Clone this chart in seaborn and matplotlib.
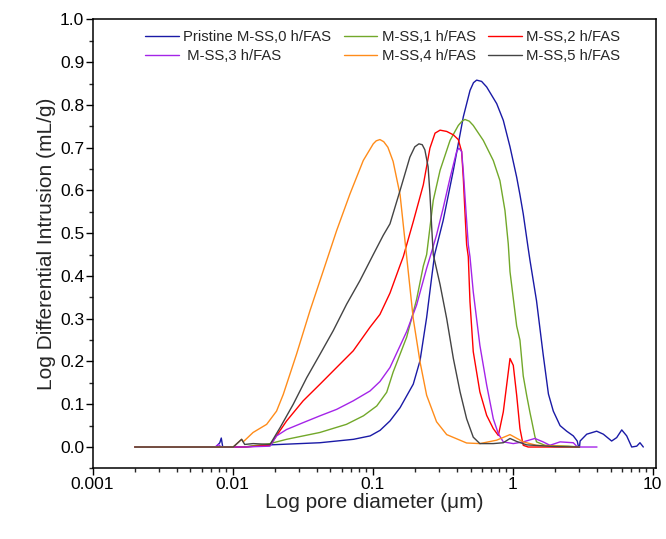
import numpy as np
import pandas as pd
import matplotlib
matplotlib.use("Agg")
import matplotlib.pyplot as plt
import seaborn as sns
from matplotlib.ticker import FixedLocator, MultipleLocator, LogLocator, NullFormatter, FixedFormatter

# ---------------- data ----------------
series_names = ["Pristine M-SS,0 h/FAS", "M-SS,1 h/FAS", "M-SS,2 h/FAS",
                " M-SS,3 h/FAS", "M-SS,4 h/FAS", "M-SS,5 h/FAS"]
series_colors = ["#1a1aa6", "#72a82a", "#ff0000", "#a424e8", "#ff8c1a", "#444444"]

x_0h = [0.002, 0.0076, 0.0081, 0.0083, 0.0085, 0.012, 0.0185, 0.042, 0.073, 0.096, 0.113,
        0.133, 0.157, 0.195, 0.218, 0.243, 0.264, 0.277, 0.319, 0.377, 0.444, 0.496, 0.525,
        0.553, 0.60, 0.652, 0.769, 0.857, 0.957, 1.068, 1.127, 1.19, 1.29, 1.33, 1.48, 1.65,
        1.80, 1.95, 2.18, 2.43, 2.71, 2.89, 2.94, 3.0, 3.03, 3.38, 3.98, 4.44, 5.09, 5.53,
        6.01, 6.52, 7.08, 7.69, 8.11, 8.57]
y_0h = [0.0, 0.0, 0.01, 0.021, 0.0, 0.0, 0.005, 0.01, 0.018, 0.026, 0.039,
        0.061, 0.092, 0.147, 0.202, 0.303, 0.397, 0.45, 0.53, 0.647, 0.772, 0.834, 0.852,
        0.858, 0.855, 0.842, 0.803, 0.764, 0.702, 0.631, 0.59, 0.545, 0.465, 0.436, 0.342,
        0.217, 0.124, 0.084, 0.05, 0.037, 0.026, 0.014, 0.003, 0.0, 0.014, 0.03, 0.037, 0.03,
        0.014, 0.022, 0.04, 0.026, 0.0, 0.002, 0.01, 0.0]

x_1h = [0.002, 0.012, 0.0185, 0.0243, 0.042, 0.065, 0.086, 0.107, 0.126, 0.140, 0.175, 0.206,
        0.230, 0.243, 0.271, 0.303, 0.357, 0.409, 0.435, 0.456, 0.49, 0.523, 0.617, 0.727,
        0.811, 0.881, 0.93, 0.957, 1.068, 1.127, 1.19, 1.26, 1.33, 1.37, 1.44, 1.48, 1.7,
        2.5, 3.0]
y_1h = [0.0, 0.0, 0.008, 0.018, 0.034, 0.053, 0.073, 0.096, 0.128, 0.175, 0.257, 0.345,
        0.423, 0.45, 0.577, 0.647, 0.717, 0.752, 0.762, 0.766, 0.762, 0.752, 0.717, 0.67,
        0.623, 0.553, 0.475, 0.41, 0.283, 0.25, 0.166, 0.12, 0.08, 0.06, 0.025, 0.012, 0.004,
        0.002, 0.0]

x_2h = [0.002, 0.012, 0.0185, 0.0243, 0.0319, 0.0421, 0.0553, 0.0727, 0.0957, 0.1127, 0.133,
        0.157, 0.1655, 0.195, 0.230, 0.2565, 0.279, 0.303, 0.338, 0.377, 0.409, 0.432, 0.444,
        0.456, 0.469, 0.482, 0.4955, 0.523, 0.583, 0.652, 0.727, 0.79, 0.857, 0.906, 0.957,
        1.01, 1.068, 1.127, 1.19, 1.29, 1.40, 3.0]
y_2h = [0.0, 0.0, 0.004, 0.061, 0.108, 0.147, 0.186, 0.225, 0.28, 0.31, 0.36,
        0.425, 0.445, 0.527, 0.613, 0.699, 0.734, 0.741, 0.738, 0.73, 0.719, 0.691, 0.629,
        0.551, 0.473, 0.445, 0.34, 0.223, 0.129, 0.074, 0.043, 0.027, 0.082, 0.145, 0.207,
        0.191, 0.121, 0.043, 0.004, 0.0, 0.0, 0.0]

x_3h = [0.002, 0.0075, 0.0079, 0.0083, 0.012, 0.0185, 0.0206, 0.0243, 0.0319, 0.0421, 0.0553,
        0.0727, 0.0957, 0.1127, 0.133, 0.175, 0.206, 0.243, 0.264, 0.286, 0.319, 0.357, 0.398,
        0.413, 0.432, 0.444, 0.464, 0.482, 0.4955, 0.523, 0.583, 0.652, 0.727, 0.79, 0.857,
        1.01, 1.19, 1.44, 1.65, 1.845, 2.18, 2.71, 2.9, 4.0]
y_3h = [0.0, 0.0, 0.006, 0.0, 0.0, 0.002, 0.026, 0.041, 0.057, 0.073, 0.088,
        0.108, 0.131, 0.153, 0.186, 0.27, 0.332, 0.418, 0.457, 0.496, 0.559, 0.629, 0.691,
        0.699, 0.691, 0.645, 0.551, 0.473, 0.445, 0.363, 0.238, 0.145, 0.066, 0.031, 0.012,
        0.008, 0.012, 0.02, 0.012, 0.004, 0.012, 0.01, 0.0, 0.0]

x_4h = [0.002, 0.0101, 0.0116, 0.0119, 0.014, 0.0175, 0.0206, 0.023, 0.0286, 0.0357, 0.0444,
        0.0553, 0.0689, 0.0857, 0.101, 0.106, 0.1127, 0.12, 0.1285, 0.140, 0.157, 0.175,
        0.195, 0.218, 0.243, 0.286, 0.338, 0.469, 0.583, 0.769, 0.957, 1.19, 1.48, 3.0]
y_4h = [0.0, 0.0, 0.018, 0.012, 0.034, 0.053, 0.084, 0.123, 0.217, 0.319, 0.412,
        0.506, 0.592, 0.67, 0.709, 0.716, 0.719, 0.714, 0.701, 0.668, 0.59, 0.445,
        0.30, 0.199, 0.121, 0.059, 0.029, 0.0094, 0.008, 0.016, 0.029, 0.012, 0.004, 0.0]

x_5h = [0.002, 0.0101, 0.0116, 0.0122, 0.014, 0.0185, 0.0218, 0.0271, 0.0338, 0.0421, 0.0523,
        0.0652, 0.0811, 0.101, 0.119, 0.133, 0.157, 0.1845, 0.20, 0.214, 0.226, 0.236, 0.249,
        0.2565, 0.264, 0.271, 0.303, 0.338, 0.377, 0.421, 0.469, 0.523, 0.583, 0.727, 0.857,
        0.957, 1.068, 1.26, 2.0, 3.0]
y_5h = [0.0, 0.0, 0.018, 0.006, 0.008, 0.006, 0.045, 0.1, 0.162, 0.217, 0.272,
        0.334, 0.389, 0.45, 0.495, 0.522, 0.6, 0.678, 0.702, 0.709, 0.707, 0.695, 0.655,
        0.592, 0.514, 0.45, 0.38, 0.30, 0.207, 0.129, 0.066, 0.023, 0.008, 0.008, 0.01,
        0.02, 0.013, 0.005, 0.001, 0.0]

x_tick_values = [0.001, 0.01, 0.1, 1, 10]
x_tick_labels = ["0.001", "0.01", "0.1", "1", "10"]
y_tick_values = [0.0, 0.1, 0.2, 0.3, 0.4, 0.5, 0.6, 0.7, 0.8, 0.9, 1.0]
y_tick_labels = ["0.0", "0.1", "0.2", "0.3", "0.4", "0.5", "0.6", "0.7", "0.8", "0.9", "1.0"]

# ---------------- build long table ----------------
xs = [x_0h, x_1h, x_2h, x_3h, x_4h, x_5h]
ys = [y_0h, y_1h, y_2h, y_3h, y_4h, y_5h]
frames = []
for name, xv, yv in zip(series_names, xs, ys):
    frames.append(pd.DataFrame({"diameter": xv, "intrusion": yv, "series": name,
                                "order": np.arange(len(xv))}))
df = pd.concat(frames, ignore_index=True)

# ---------------- style ----------------
sns.set_style("ticks")
plt.rcParams["font.family"] = ["Liberation Sans", "DejaVu Sans"]

fig = plt.figure(figsize=(6.66, 5.39), dpi=100)
ax = fig.add_axes([0.139, 0.131, 0.8455, 0.833])
ax.set_xscale("log")

sns.lineplot(data=df, x="diameter", y="intrusion", hue="series", hue_order=series_names,
             palette=series_colors, sort=False, estimator=None, linewidth=1.0, ax=ax)

ax.set_xlim(0.001, 10.5)
ax.set_ylim(-0.05, 1.0)

ax.xaxis.set_major_locator(FixedLocator(x_tick_values))
ax.xaxis.set_major_formatter(FixedFormatter(x_tick_labels))
ax.xaxis.set_minor_locator(LogLocator(base=10, subs=np.arange(2, 10), numticks=20))
ax.xaxis.set_minor_formatter(NullFormatter())
ax.yaxis.set_major_locator(FixedLocator(y_tick_values))
ax.yaxis.set_major_formatter(FixedFormatter(y_tick_labels))
ax.yaxis.set_minor_locator(MultipleLocator(0.05))

ax.tick_params(axis="both", which="major", direction="out", length=5, width=1.0,
               labelsize=12.5, colors="black", top=False, right=False, pad=1)
ax.tick_params(axis="both", which="minor", direction="out", length=3, width=1.0,
               top=False, right=False)
for sp in ax.spines.values():
    sp.set_linewidth(1.1)
    sp.set_color("black")
    sp.set_visible(True)

ax.set_xlabel("Log pore diameter (\u03bcm)", fontsize=15, labelpad=1)
ax.set_ylabel("Log Differential Intrusion (mL/g)", fontsize=15, labelpad=3)

handles, labels = ax.get_legend_handles_labels()
order = [0, 3, 1, 4, 2, 5]
leg = ax.legend([handles[i] for i in order], [labels[i] for i in order], ncol=3,
                frameon=False, loc="upper left", bbox_to_anchor=(0.075, 1.0),
                fontsize=10.7, handlelength=2.25, handletextpad=0.3,
                columnspacing=0.85, labelspacing=0.35, borderaxespad=0.3)
for h in leg.legend_handles:
    h.set_linewidth(1.0)

fig.savefig("out.png", dpi=100)
